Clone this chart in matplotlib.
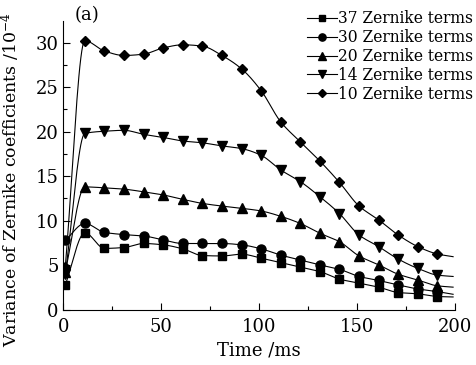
import numpy as np
import matplotlib
matplotlib.use("Agg")
import matplotlib.pyplot as plt
from matplotlib.ticker import MultipleLocator

plt.rcParams["font.family"] = ["DejaVu Serif"]
plt.rcParams["mathtext.fontset"] = "dejavuserif"

# time of each sample (ms); the last one is the curve end without a marker
time_ms = [1, 11, 21, 31, 41, 51, 61, 71, 81, 91, 101, 111, 121, 131, 141, 151, 161, 171, 181, 191, 199]

terms_37 = [2.8, 8.65, 6.9, 7.0, 7.45, 7.3, 6.85, 6.1, 6.05, 6.25, 5.8, 5.3, 4.8, 4.3, 3.45, 3.0, 2.55, 1.95, 1.8, 1.5, 1.45]
terms_30 = [7.8, 9.7, 8.7, 8.45, 8.3, 7.85, 7.45, 7.45, 7.45, 7.3, 6.85, 6.15, 5.6, 5.05, 4.55, 3.75, 3.3, 2.8, 2.35, 2.05, 1.75]
terms_20 = [4.3, 13.8, 13.7, 13.55, 13.25, 12.9, 12.4, 11.95, 11.65, 11.4, 11.1, 10.5, 9.7, 8.6, 7.65, 6.05, 5.05, 4.0, 3.35, 2.7, 2.55]
terms_14 = [4.0, 19.8, 20.05, 20.15, 19.7, 19.35, 18.95, 18.75, 18.4, 18.1, 17.35, 15.7, 14.4, 12.7, 10.8, 8.4, 7.1, 5.7, 4.65, 3.9, 3.75]
terms_10 = [4.8, 30.2, 29.05, 28.55, 28.7, 29.4, 29.75, 29.6, 28.55, 27.05, 24.6, 21.1, 18.85, 16.7, 14.3, 11.65, 10.1, 8.4, 7.1, 6.27, 5.97]

labels = ["37 Zernike terms", "30 Zernike terms", "20 Zernike terms",
          "14 Zernike terms", "10 Zernike terms"]
markers = ["s", "o", "^", "v", "D"]
msizes = [5.5, 6.5, 6.5, 6.5, 5.5]


def smooth(x, y, n=400):
    # shape-preserving cubic (PCHIP) curve through the samples
    x = np.asarray(x, float)
    y = np.asarray(y, float)
    h = np.diff(x)
    d = np.diff(y) / h
    m = len(x)
    s = np.zeros(m)
    for i in range(1, m - 1):
        if d[i - 1] * d[i] > 0:
            w1 = 2 * h[i] + h[i - 1]
            w2 = h[i] + 2 * h[i - 1]
            s[i] = (w1 + w2) / (w1 / d[i - 1] + w2 / d[i])
    s[0] = d[0]
    s[-1] = d[-1]
    xs = np.linspace(x[0], x[-1], n)
    k = np.clip(np.searchsorted(x, xs) - 1, 0, m - 2)
    t = (xs - x[k]) / h[k]
    h00 = 2 * t ** 3 - 3 * t ** 2 + 1
    h10 = t ** 3 - 2 * t ** 2 + t
    h01 = -2 * t ** 3 + 3 * t ** 2
    h11 = t ** 3 - t ** 2
    ys = h00 * y[k] + h10 * h[k] * s[k] + h01 * y[k + 1] + h11 * h[k] * s[k + 1]
    return xs, ys


fig = plt.figure(figsize=(4.76, 3.65), dpi=100)
ax = fig.add_axes([0.133, 0.151, 0.823, 0.791])

for vals, lab, mk, ms in zip([terms_37, terms_30, terms_20, terms_14, terms_10], labels, markers, msizes):
    xs, ys = smooth(time_ms, vals)
    ax.plot(xs, ys, color="black", lw=0.8)
    ax.plot(time_ms[:-1], vals[:-1], linestyle="none", marker=mk, ms=ms, color="black")
    # legend proxy: line with marker
    ax.plot([], [], color="black", lw=0.8, marker=mk, ms=ms * 0.8, label=lab)

ax.set_xlim(0, 200)
ax.set_ylim(0, 32.4)
ax.xaxis.set_major_locator(MultipleLocator(50))
ax.xaxis.set_minor_locator(MultipleLocator(25))
ax.yaxis.set_major_locator(MultipleLocator(5))
ax.yaxis.set_minor_locator(MultipleLocator(2.5))
ax.tick_params(which="both", direction="in", labelsize=13, width=0.8)
ax.tick_params(which="major", length=5)
ax.tick_params(which="minor", length=3)
ax.tick_params(axis="x", pad=6)
ax.spines["top"].set_visible(False)
ax.spines["right"].set_visible(False)

ax.set_xlabel("Time /ms", fontsize=13, labelpad=0)
ax.xaxis.set_label_coords(0.5, -0.11)
ax.set_ylabel(r"Variance of Zernike coefficients /10$^{-4}$", fontsize=12.5)
ax.yaxis.set_label_coords(-0.105, 0.45)
ax.text(0.03, 1.02, "(a)", transform=ax.transAxes, fontsize=13, va="center")

fig.legend(loc="upper left", bbox_to_anchor=(0.645, 0.972), frameon=False,
           fontsize=11.2, handlelength=1.95, handletextpad=0.05, labelspacing=0.12,
           borderpad=0, borderaxespad=0)

fig.savefig("out.png", dpi=100)
